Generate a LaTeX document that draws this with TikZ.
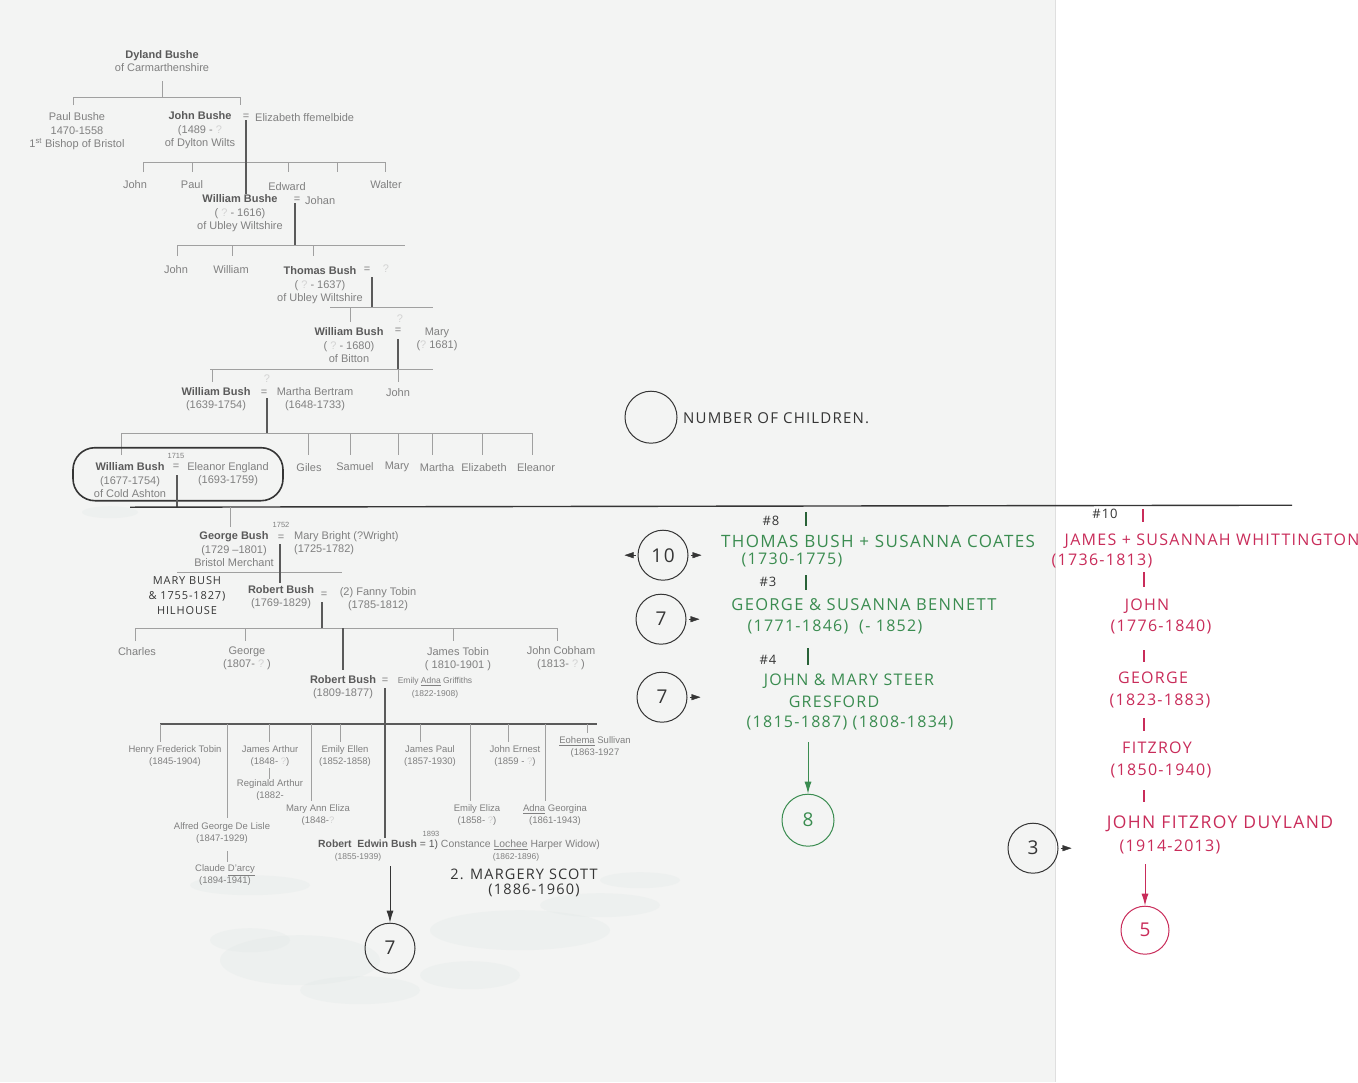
\documentclass[tikz,border=0pt]{standalone}
\usepackage{fontspec}
\setmainfont{Liberation Sans}
\newfontfamily\hand{Open Sans}[LetterSpace=8]
\usetikzlibrary{positioning, arrows.meta}

\definecolor{inkgray}{HTML}{808080}
\definecolor{namegray}{HTML}{5A5A5A}
\definecolor{pengreen}{HTML}{3A8C50}
\definecolor{penpink}{HTML}{C92C5A}
\definecolor{penblack}{HTML}{353535}
\definecolor{paper}{HTML}{F3F4F3}
\definecolor{whiteout}{HTML}{E2E9E7}

\tikzset{
  person/.style={inner sep=0pt, align=center, text=inkgray, font=\fontsize{11}{13.5}\selectfont},
  kid/.style={person, font=\fontsize{9.5}{12}\selectfont},
  tiny/.style={inner sep=0pt, text=inkgray, font=\fontsize{7.5}{9}\selectfont},
  link/.style={draw=inkgray!75, line width=0.9pt},
  descent/.style={draw=namegray, line width=2.6pt},
  note/.style={inner sep=0pt, align=center, font=\hand\fontsize{16}{19}\selectfont},
  count/.style={circle, draw=penblack, line width=1pt, minimum size=50pt, inner sep=0pt, text=penblack, font=\hand\fontsize{19}{19}\selectfont},
  pointer/.style={penblack, -{Triangle[length=9pt,width=6pt]}},
  down/.style={line width=1pt, -{Latex[length=12pt,width=7pt]}},
  gtick/.style={pengreen!70!black, line width=1.2pt},
  ptick/.style={penpink, line width=1.2pt},
  smudge/.style={fill=whiteout, opacity=0.3}
}
\newcommand{\nm}[1]{\textbf{\color{namegray}#1}}
\newcommand{\unk}{{\color{inkgray!35}?}}

\begin{document}
\begin{tikzpicture}[x=1pt, y=-1pt]
\fill[paper] (0,0) rectangle (1055,1082);
\fill[white] (1055,0) rectangle (1358,1082);
\draw[gray!25] (1055,0) -- (1055,1082);
\useasboundingbox (0,0) rectangle (1358,1082);
% correction fluid marks
\foreach \cx/\cy/\rx/\ry in {300/960/80/25, 360/990/60/14, 250/940/40/12, 520/930/90/20, 600/905/60/12, 470/975/50/14, 250/885/60/10, 640/880/40/8, 110/512/28/6}
  \fill[smudge] (\cx,\cy) ellipse ({\rx pt} and {\ry pt});

% printed tree
\node[person] (dyland) at (162,61) {\nm{Dyland Bushe}\\of Carmarthenshire};
\node[person] (paul) at (77,131) {Paul Bushe\\1470-1558\\1\textsuperscript{st} Bishop of Bristol};
\node[person] (johnb) at (200,130) {\nm{John Bushe}\\(1489 - \unk\\of Dylton Wilts};
\node[person] (eq1) at (246,117) {=};
\node[person, anchor=west] (eliz) at (255,117) {Elizabeth ffemelbide};
\coordinate (b0w) at (73,97);
\coordinate (b0e) at (240,97);
\draw[link] (dyland.south) ++(0,9) -- (dyland.south |- b0w);
\draw[link] (b0w) ++(0,8) -- (b0w) -- (b0e) -- ++(0,8);

\coordinate (b1w) at (143,162);
\coordinate (b1e) at (385,162);
\draw[link] (b1w) ++(0,10) -- (b1w) -- (b1e) -- ++(0,10);
\foreach \x in {192,288,337} \draw[link] (\x,162) -- ++(0,10);
\node[person] (john1) at (135,184) {John};
\node[person] (paul1) at (192,184) {Paul};
\node[person] (edward) at (287,186) {Edward};
\node[person] (walter) at (386,184) {Walter};
\node[person] (wbushe) at (240,213) {\nm{William Bushe}\\( \unk\ - 1616)\\of Ubley Wiltshire};
\node[person] (eq2) at (297,200) {=};
\node[person, anchor=west] (johan) at (305,200) {Johan};
\draw[descent] (eq1.south) -- (eq1.south |- wbushe.north);

\coordinate (b2w) at (177,245);
\coordinate (b2e) at (405,245);
\draw[descent] (eq2.south -| 295,0) -- (295,245);
\draw[link] (b2w) ++(0,11) -- (b2w) -- (b2e);
\foreach \x in {232,313} \draw[link] (\x,245) -- ++(0,11);
\node[person] (john2) at (176,269) {John};
\node[person] (will2) at (231,269) {William};
\node[person] (thomas) at (320,285) {\nm{Thomas Bush}\\( \unk\ - 1637)\\of Ubley Wiltshire};
\node[person] (eq3) at (367,270) {=};
\node[person] at (386,268) {\unk};

\coordinate (b3w) at (330,307);
\coordinate (b3e) at (433,307);
\draw[descent] (372,277) -- (372,307);
\draw[link] (b3w) -- (b3e);
\draw[link] (350,307) -- ++(0,15);
\node[person] (will3) at (349,345) {\nm{William Bush}\\( \unk\ - 1680)\\of Bitton};
\node[person] (eq4) at (398,331) {=};
\node[person] at (400,318) {\unk};
\node[person] (mary3) at (437,339) {Mary\\(\unk\ 1681)};

\coordinate (b4w) at (210,369);
\coordinate (b4e) at (433,369);
\draw[descent] (398,339) -- (398,369);
\draw[link] (b4w) -- (b4e);
\foreach \x in {212,398} \draw[link] (\x,369) -- ++(0,13);
\node[person] (will4) at (216,399) {\nm{William Bush}\\(1639-1754)};
\node[person] (eq5) at (264,393) {=};
\node[person] at (267,378) {\unk};
\node[person] (martha4) at (315,399) {Martha Bertram\\(1648-1733)};
\node[person] (john4) at (398,392) {John};

\coordinate (b5w) at (121,433);
\coordinate (b5e) at (532,433);
\draw[descent] (267,398) -- (267,433);
\draw[link] (b5w) ++(0,22) -- (b5w) -- (b5e) -- ++(0,22);
\foreach \x in {308,350,398,432,482} \draw[link] (\x,433) -- ++(0,22);
\node[draw=penblack, rounded corners=22pt, line width=1.6pt, minimum width=210pt, minimum height=53pt, inner sep=0pt] (wbox) at (178,474) {};
\node[person] (will5) at (130,480) {\nm{William Bush}\\(1677-1754)\\of Cold Ashton};
\node[person] (eq6) at (176,467) {=};
\node[tiny] at (176,456) {1715};
\node[person] (eleanor5) at (228,474) {Eleanor England\\(1693-1759)};
\node[person] (giles) at (309,467) {Giles};
\node[person] (samuel) at (355,466) {Samuel};
\node[person] (mary5) at (397,467) {Mary};
\node[person] (martha5) at (437,467) {Martha};
\node[person] (eliz5) at (484,467) {Elizabeth};
\node[person] (elea5) at (536,467) {Eleanor};

% page divider
\coordinate (lw) at (130,507);
\coordinate (le) at (1292,505);
\draw[descent] (177,475) -- (177,507);
\draw[penblack, line width=1.4pt] (lw) -- (le);

\draw[link] (230,507) -- ++(0,20);
\node[person] (george6) at (234,549) {\nm{George Bush}\\(1729 --1801)\\Bristol Merchant};
\node[tiny] at (281,525) {1752};
\node[person] (eq7) at (281,538) {=};
\node[person, anchor=west, align=left] (mbright) at (294,543) {Mary Bright (?Wright)\\(1725-1782)};
\draw[link] (177,572) -- (342,572);
\draw[descent] (280,544) -- (280,583);
\node[note, text=penblack, font=\hand\fontsize{11}{15}\selectfont] (marybush) at (187,595) {MARY BUSH\\\& 1755-1827)\\HILHOUSE};
\node[person] (robert7) at (281,597) {\nm{Robert Bush}\\(1769-1829)};
\node[person] (eq8) at (324,595) {=};
\node[person] (fanny) at (378,599) {(2) Fanny Tobin\\(1785-1812)};

\coordinate (b8w) at (135,628);
\coordinate (b8e) at (557,628);
\draw[descent] (322,602) -- (322,628);
\draw[link] (b8w) ++(0,13) -- (b8w) -- (b8e) -- ++(0,13);
\foreach \x in {245,453} \draw[link] (\x,628) -- ++(0,13);
\draw[descent] (343,628) -- (343,670);
\node[person] (charles) at (137,651) {Charles};
\node[person] (george8) at (247,658) {George\\(1807- \unk\ )};
\node[person] (jtobin) at (458,659) {James Tobin\\( 1810-1901 )};
\node[person] (jcobham) at (561,658) {John Cobham\\(1813- \unk\ )};
\node[person] (robert8) at (343,687) {\nm{Robert Bush}\\(1809-1877)};
\node[person] (eq9) at (385,681) {=};
\node[kid, font=\fontsize{8.5}{13}\selectfont] (emily8) at (435,688) {Emily \underline{Adna} Griffiths\\(1822-1908)};

\coordinate (b9w) at (160,724);
\coordinate (b9e) at (597,724);
\draw[descent] (385,688) -- (385,724);
\draw[draw=namegray, line width=2pt] (b9w) -- (b9e);
\foreach \x in {160,269,340,420,508} \draw[link] (\x,724) -- ++(0,18);
\foreach \x in {311,470,545} \draw[link] (\x,724) -- ++(0,77);
\draw[link] (227,724) -- ++(0,94);
\draw[link] (587,724) -- ++(0,9);
\draw[link] (269,768) -- ++(0,11);
\draw[link] (227,851) -- ++(0,11);
\draw[descent] (385,724) -- (385,838);
\node[kid] (henry) at (175,756) {Henry Frederick Tobin\\(1845-1904)};
\node[kid] (jarthur) at (270,756) {James Arthur\\(1848- \unk)};
\node[kid] (rarthur) at (270,790) {Reginald Arthur\\(1882-};
\node[kid] (eellen) at (345,756) {Emily Ellen\\(1852-1858)};
\node[kid] (maeliza) at (318,815) {Mary Ann Eliza\\(1848-\unk};
\node[kid] (alfred) at (222,833) {Alfred George De Lisle\\(1847-1929)};
\node[kid] (claude) at (225,875) {Claude \underline{D'arcy}\\(1894-1941)};
\node[kid] (jpaul) at (430,756) {James Paul\\(1857-1930)};
\node[kid] (jernest) at (515,756) {John Ernest\\(1859 - \unk)};
\node[kid] (eohema) at (595,747) {\underline{Eohema} Sullivan\\(1863-1927};
\node[kid] (eeliza) at (477,815) {Emily Eliza\\(1858- \unk)};
\node[kid] (adna) at (555,815) {\underline{Adna} Georgina\\(1861-1943)};
\node[tiny] at (431,834) {1893};
\node[kid, anchor=west, font=\fontsize{10.4}{12}\selectfont] (redwin) at (318,845) {\nm{Robert~ Edwin Bush} {\color{namegray}= 1)} Constance \underline{Lochee} Harper Widow)};
\node[kid, font=\fontsize{8.5}{10}\selectfont] (redates) at (358,857) {(1855-1939)};
\node[kid, font=\fontsize{8.5}{10}\selectfont] (cdates) at (516,857) {(1862-1896)};
\node[note, text=penblack, font=\hand\fontsize{14.5}{15}\selectfont] (margery) at (524,883) {2. MARGERY SCOTT\\\hspace*{20pt}(1886-1960)};
\node[count] (c7a) at (390,948) {7};
\coordinate (a1) at (390,866);
\draw[down, penblack] (a1) -- (c7a.north);

% legend
\node[count, minimum size=52pt] (legend) at (651,417) {};
\node[note, anchor=west, text=penblack, font=\hand\fontsize{15}{17}\selectfont] (legtext) at (683,418) {NUMBER OF CHILDREN.};

% green line
\node[note, text=penblack, font=\hand\fontsize{13}{15}\selectfont] (h8) at (771,521) {\#8};
\node[note, text=pengreen, font=\hand\fontsize{17}{19}\selectfont] (thomasb) at (878,541) {THOMAS BUSH + SUSANNA COATES};
\node[note, text=pengreen] (thdates) at (792,560) {(1730-1775)};
\node[note, text=penblack, font=\hand\fontsize{13}{15}\selectfont] (h3) at (768,582) {\#3};
\node[note, text=pengreen, font=\hand\fontsize{16.5}{19}\selectfont] (georgeb) at (864,604) {GEORGE \& SUSANNA BENNETT};
\node[note, text=pengreen] (gdates) at (835,627) {(1771-1846) ~(- 1852)};
\node[note, text=penblack, font=\hand\fontsize{13}{15}\selectfont] (h4) at (768,660) {\#4};
\node[note, text=pengreen] (johns) at (849,681) {JOHN \& MARY STEER};
\node[note, text=pengreen] (gresford) at (834,702) {GRESFORD};
\node[note, text=pengreen] (jdates) at (850,723) {(1815-1887) (1808-1834)};
\draw[gtick] (806,512) -- (806,526);
\draw[gtick] (806,575) -- (806,590);
\draw[gtick] (808,648) -- (808,665);
\node[count] (c10) at (663,555) {10};
\node[count] (c7b) at (661,619) {7};
\node[count] (c7c) at (662,697) {7};
\draw[pointer] ([xshift=-2pt]c10.west) -- ++(-11,0);
\draw[pointer] ([xshift=2pt]c10.east) -- ++(11,0);
\draw[pointer] ([xshift=2pt]c7b.east) -- ++(11,0);
\draw[pointer] ([xshift=2pt]c7c.east) -- ++(11,0);
\node[count, draw=pengreen, text=pengreen, minimum size=52pt] (c8) at (808,820) {8};
\draw[down, pengreen] (jdates.south -| c8) ++(0,12) -- (c8.north);

% pink line
\node[note, text=penblack, font=\hand\fontsize{13}{15}\selectfont] (h10) at (1105,514) {\#10};
\node[note, text=penpink] (jamesw) at (1212,541) {JAMES + SUSANNAH WHITTINGTON};
\node[note, text=penpink] (jwdates) at (1102,561) {(1736-1813)};
\node[note, text=penpink] (johnp) at (1147,606) {JOHN};
\node[note, text=penpink] (jpdates) at (1161,627) {(1776-1840)};
\node[note, text=penpink] (georgep) at (1153,678) {GEORGE};
\node[note, text=penpink] (gpdates) at (1160,701) {(1823-1883)};
\node[note, text=penpink] (fitz) at (1157,748) {FITZROY};
\node[note, text=penpink] (fdates) at (1161,771) {(1850-1940)};
\node[note, text=penpink, font=\hand\fontsize{17.5}{19}\selectfont] (jfd) at (1220,824) {JOHN FITZROY DUYLAND};
\node[note, text=penpink] (jfddates) at (1170,847) {(1914-2013)};
\draw[ptick] (1143,509) -- (1143,522);
\draw[ptick] (1144,572) -- (1144,587);
\draw[ptick] (1144,650) -- (1144,662);
\draw[ptick] (1144,718) -- (1144,731);
\draw[ptick] (1144,790) -- (1144,802);
\node[count] (c3) at (1033,848) {3};
\draw[pointer] ([xshift=2pt]c3.east) -- ++(11,0);
\node[count, draw=penpink, text=penpink, minimum size=48pt] (c5) at (1145,930) {5};
\draw[down, penpink] (jfddates.south -| c5) ++(0,10) -- (c5.north);
\end{tikzpicture}
\end{document}
